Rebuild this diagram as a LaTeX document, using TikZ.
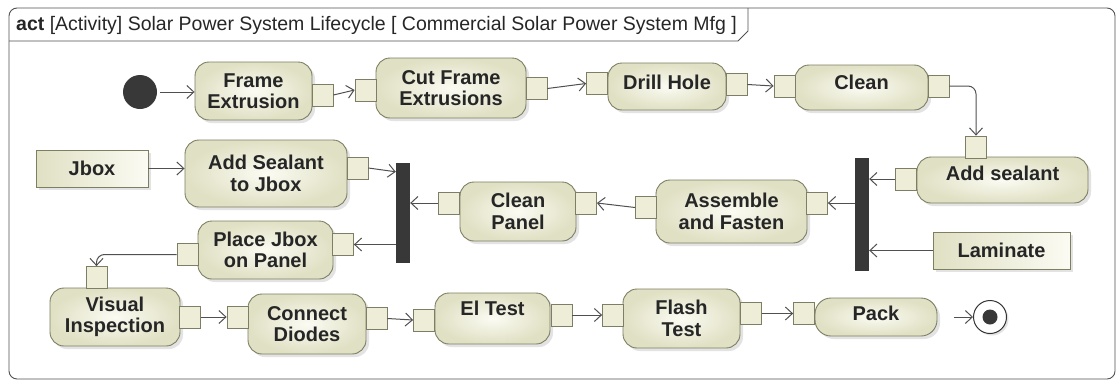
\documentclass[tikz,border=0pt]{standalone}
\usepackage{fontspec}
\setmainfont{Liberation Sans}
\usetikzlibrary{arrows.meta,shadows}
\definecolor{edgecol}{HTML}{505050}
\definecolor{boxline}{HTML}{7E7E62}
\definecolor{boxin}{HTML}{FBFBF3}
\definecolor{boxout}{HTML}{E0E0C4}
\definecolor{pinfill}{HTML}{EEEED8}
\definecolor{pinline}{HTML}{7E7E66}
\definecolor{bardark}{HTML}{383838}
\definecolor{framecol}{HTML}{505050}
\begin{document}
\begin{tikzpicture}[x=1pt,y=-1pt,
  action/.style={draw=boxline, line width=0.9pt, rounded corners=14pt,
    inner color=boxin, outer color=boxout,
    drop shadow={shadow xshift=3pt,shadow yshift=-3pt,fill=black!22},
    font=\fontsize{20}{21.5}\selectfont\bfseries, align=center, inner sep=0pt,
    text=black!85},
  objbox/.style={draw=boxline, line width=0.9pt, left color=boxout, right color=boxin,
    drop shadow={shadow xshift=3pt,shadow yshift=-3pt,fill=black!22},
    font=\fontsize{20}{21.5}\selectfont\bfseries, align=center, inner sep=0pt,
    text=black!85},
  pinbox/.style={draw=pinline, fill=pinfill, line width=0.8pt, minimum width=21pt,
    minimum height=22pt, inner sep=0pt},
  barbox/.style={fill=bardark, draw=none, minimum width=14pt, inner sep=0pt},
  flow/.style={draw=edgecol, line width=1pt,
    -{Straight Barb[length=7pt,width=13pt,line width=1pt]}}
]
\useasboundingbox (0,0) rectangle (1118,383);
% frame
\draw[framecol, line width=0.9pt, rounded corners=8pt] (9,8) rectangle (1115,379);
\draw[framecol, line width=0.9pt] (9,41) -- (738,41) -- (748,31) -- (748,8);
\node[anchor=west, font=\fontsize{19.5}{20}\selectfont, text=black!85, inner sep=0pt]
  (title) at (16,25) {\textbf{act} [Activity] Solar Power System Lifecycle [ Commercial Solar Power System Mfg ]};

% initial / final
\node[circle, fill=bardark, minimum size=34pt, inner sep=0pt] (init) at (140,92) {};
\node[circle, draw=black!80, line width=1pt, fill=white, minimum size=33pt, inner sep=0pt,
  drop shadow={shadow xshift=2pt,shadow yshift=-2pt,fill=black!22}] (fin) at (990,317) {};
\fill[bardark] (fin.center) circle (7.5);

% actions
\node[action, minimum width=117pt, minimum height=58pt] (fe) at (253.5,91) {Frame\\Extrusion};
\node[action, minimum width=150pt, minimum height=60pt] (cfe) at (451,88) {Cut Frame\\Extrusions};
\node[action, minimum width=118pt, minimum height=47pt, text depth=9pt] (dh) at (667,86.5) {Drill Hole};
\node[action, minimum width=133pt, minimum height=45pt, text depth=11pt] (cl) at (861.5,87.5) {Clean};
\node[action, minimum width=171pt, minimum height=46pt, text depth=14pt] (as) at (1002.5,180) {Add sealant};
\node[action, minimum width=151pt, minimum height=63pt] (af) at (731.5,211.5) {Assemble\\and Fasten};
\node[action, minimum width=116pt, minimum height=59pt] (cp) at (518,211.5) {Clean\\Panel};
\node[action, minimum width=162pt, minimum height=67pt] (asj) at (266,173.5) {Add Sealant\\to Jbox};
\node[action, minimum width=135pt, minimum height=58pt] (pj) at (265.5,250) {Place Jbox\\on Panel};
\node[action, minimum width=130pt, minimum height=58pt] (vi) at (115,317) {Visual\\Inspection};
\node[action, minimum width=118pt, minimum height=60pt] (cd) at (307,324) {Connect\\Diodes};
\node[action, minimum width=115pt, minimum height=51pt, text depth=20pt] (el) at (492.5,318.5) {El Test};
\node[action, minimum width=117pt, minimum height=59pt] (ft) at (681.5,318.5) {Flash\\Test};
\node[action, minimum width=122pt, minimum height=38pt, rounded corners=16pt, text depth=8pt] (pk) at (876,317) {Pack};

% object nodes
\node[objbox, minimum width=112pt, minimum height=37pt] (jbox) at (92,168.5) {Jbox};
\node[objbox, minimum width=137pt, minimum height=37pt] (lam) at (1001.5,250.5) {Laminate};

% bars
\node[barbox, minimum height=100pt] (bar1) at (403,213) {};
\node[barbox, minimum height=113pt] (bar2) at (862,214.5) {};

% pins
\node[pinbox] (feo) at (322.5,95) {};
\node[pinbox] (cfei) at (365.5,90) {};
\node[pinbox] (cfeo) at (536.5,88.5) {};
\node[pinbox] (dhi) at (597,83.5) {};
\node[pinbox] (dho) at (736.5,84.5) {};
\node[pinbox] (cli) at (784.5,86) {};
\node[pinbox] (clo) at (938.5,86) {};
\node[pinbox] (ast) at (976,147) {};
\node[pinbox] (asl) at (905.5,179) {};
\node[pinbox] (afr) at (817,203) {};
\node[pinbox] (afl) at (646,207.5) {};
\node[pinbox] (cpr) at (586,203) {};
\node[pinbox] (cpl) at (449,203) {};
\node[pinbox] (asjr) at (357.5,168) {};
\node[pinbox] (pjr) at (343,244.5) {};
\node[pinbox] (pjl) at (187.5,254.5) {};
\node[pinbox] (vit) at (96.5,277.5) {};
\node[pinbox] (vir) at (190,317) {};
\node[pinbox] (cdl) at (237.5,317) {};
\node[pinbox] (cdr) at (376.5,318.5) {};
\node[pinbox] (ell) at (424,320) {};
\node[pinbox] (elr) at (561.5,315) {};
\node[pinbox] (ftl) at (613,315) {};
\node[pinbox] (ftr) at (751,313.5) {};
\node[pinbox] (pkl) at (804,313.5) {};

% flows
\draw[flow, shorten <=20pt] (init.center) -- (init.center -| fe.west);
\draw[flow] (feo.east) -- (cfei.west);
\draw[flow] (cfeo.east) -- (dhi.west);
\draw[flow] (dho.east) -- (cli.west);
\draw[flow, rounded corners=8pt] (clo.east) -| (ast.north);
\draw[flow] (asl.west) -- (asl.west -| bar2.east);
\draw[flow] (lam.west) -- (lam.west -| bar2.east);
\draw[flow] (afr.east -| bar2.west) -- (afr.east);
\draw[flow] (afl.west) -- (cpr.east);
\draw[flow] (cpl.west) -- (cpl.west -| bar1.east);
\draw[flow] (jbox.east) -- (jbox.east -| asj.west);
\draw[flow] (asjr.east) -- ([yshift=-9pt]bar1.north west);
\draw[flow] (pjr.east -| bar1.west) -- (pjr.east);
\draw[flow, rounded corners=8pt] (pjl.west) -| (vit.north);
\draw[flow] (vir.east) -- (cdl.west);
\draw[flow] (cdr.east) -- (ell.west);
\draw[flow] (elr.east) -- (ftl.west);
\draw[flow] (ftr.east) -- (pkl.west);
\draw[flow, shorten <=17pt] (pk.east) -- (fin.west);
\end{tikzpicture}
\end{document}
